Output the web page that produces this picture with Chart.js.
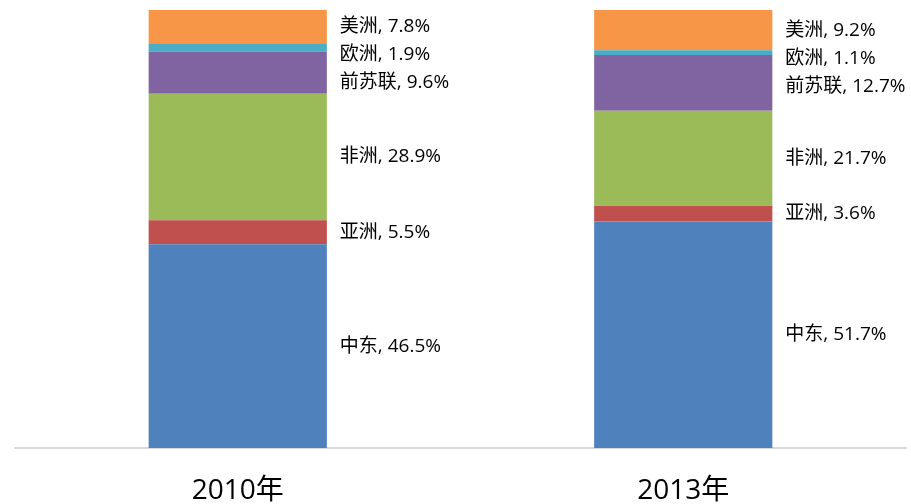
<!DOCTYPE html>
<html>
<head>
<meta charset="utf-8">
<script src="https://cdn.jsdelivr.net/npm/chart.js@4"></script>
<style>
  html, body { margin: 0; padding: 0; background: #fff; }
  #wrap { width: 911px; height: 504px; }
</style>
</head>
<body>
<div id="wrap"><canvas id="oilChart"></canvas></div>
<script>
// 年份
const years = ['2010年', '2013年'];
// 各地区占比 (%)
const regions = ['中东', '亚洲', '非洲', '前苏联', '欧洲', '美洲'];
const middleEast = [46.5, 51.7];
const asia = [5.5, 3.6];
const africa = [28.9, 21.7];
const formerUSSR = [9.6, 12.7];
const europe = [1.9, 1.1];
const americas = [7.8, 9.2];
const seriesValues = [middleEast, asia, africa, formerUSSR, europe, americas];
const colors = ['#4f81bd', '#c0504d', '#9bbb59', '#8064a2', '#4bacc6', '#f79646'];

const FONT = '"Open Sans", "Noto Sans CJK SC", sans-serif';

// 在柱子右侧画标签, 小段往下错开避免重叠
const sideLabels = {
    id: 'sideLabels',
    afterDatasetsDraw(chart) {
        const ctx = chart.ctx;
        ctx.save();
        ctx.font = '19px ' + FONT;
        ctx.fillStyle = '#000';
        ctx.textAlign = 'left';
        ctx.textBaseline = 'middle';
        years.forEach((y, i) => {
            let prev = -Infinity;
            // 从上往下 (最后一个数据集在最上面)
            for (let d = chart.data.datasets.length - 1; d >= 0; d--) {
                const bar = chart.getDatasetMeta(d).data[i];
                let cy = (bar.y + bar.base) / 2;
                if (cy < prev + 28) cy = prev + 28;
                prev = cy;
                const txt = regions[d] + ', ' + seriesValues[d][i].toFixed(1) + '%';
                ctx.fillText(txt, bar.x + bar.width / 2 + 13, cy);
            }
        });
        ctx.restore();
    }
};

new Chart(document.getElementById('oilChart'), {
    type: 'bar',
    data: {
        labels: years,
        datasets: regions.map((r, k) => ({
            label: r,
            data: seriesValues[k],
            backgroundColor: colors[k],
            borderWidth: 0,
            barPercentage: 0.4,
            categoryPercentage: 1
        }))
    },
    options: {
        responsive: true,
        maintainAspectRatio: false,
        animation: false,
        layout: { padding: { left: 15, right: 5, top: 10, bottom: 0 } },
        plugins: {
            legend: { display: false },
            tooltip: { enabled: false }
        },
        scales: {
            x: {
                stacked: true,
                grid: { display: false, drawTicks: false },
                border: { display: true, color: '#d9d9d9', width: 2 },
                ticks: {
                    color: '#000',
                    padding: 26,
                    font: { family: FONT, size: 28 }
                },
                afterFit(scale) { scale.height = 56; }
            },
            y: {
                stacked: true,
                display: false,
                min: 0,
                max: 100
            }
        }
    },
    plugins: [sideLabels]
});
</script>
</body>
</html>
